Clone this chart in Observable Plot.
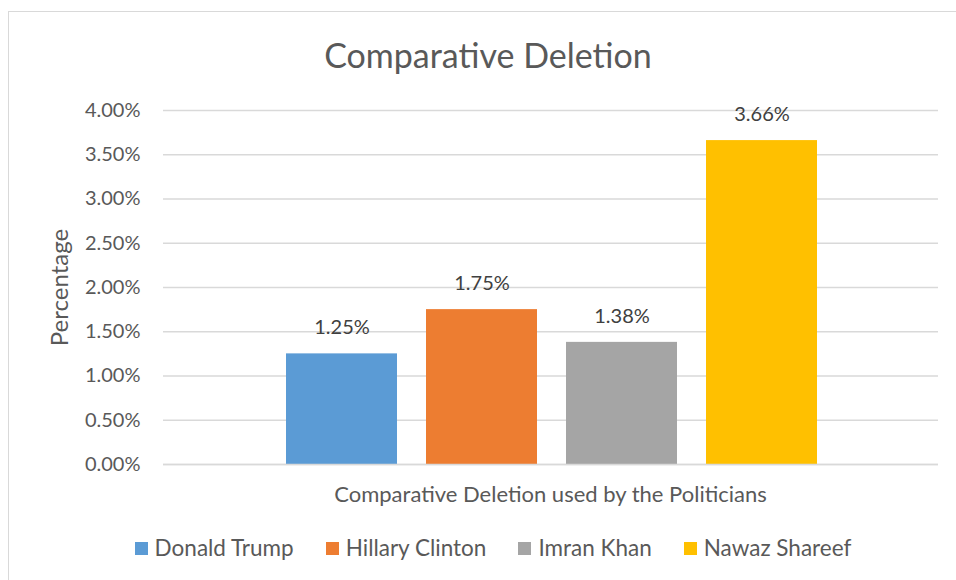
<!DOCTYPE html>
<html>
<head>
<meta charset="utf-8">
<script src="https://cdn.jsdelivr.net/npm/d3@7"></script>
<script src="https://cdn.jsdelivr.net/npm/@observablehq/plot@0.6"></script>
<style>
  html, body { margin: 0; padding: 0; background: #fff; }
  #wrap { position: relative; width: 956px; height: 580px; overflow: hidden; font-family: Lato, "Open Sans", sans-serif; color: #595959; }
  #border { position: absolute; left: 8px; top: 11px; width: 1000px; height: 620px; border: 1.5px solid #d9d9d9; box-sizing: border-box; }
  #chart { position: absolute; left: 0; top: 0; }
  #title { position: absolute; left: 0; width: 976px; top: 34px; text-align: center; font-size: 34px; line-height: 42px; }
  #xlabel { position: absolute; left: 163px; width: 775px; top: 480px; text-align: center; font-size: 22px; line-height: 28px; }
  #legend { position: absolute; left: 0; top: 534px; width: 986px; display: flex; justify-content: center; font-size: 22.5px; line-height: 28px; }
  .item { display: flex; align-items: center; margin: 0 16px; }
  .sw { width: 13px; height: 13px; margin-right: 7px; }
</style>
</head>
<body>
<div id="wrap">
  <div id="border"></div>
  <div id="chart"></div>
  <div id="title">Comparative Deletion</div>
  <div id="xlabel">Comparative Deletion used by the Politicians</div>
  <div id="legend"></div>
</div>
<script>
const politicians = ["Donald Trump", "Hillary Clinton", "Imran Khan", "Nawaz Shareef"];
const deletion = [0.0125, 0.0175, 0.0138, 0.0366];
const colors = ["#5b9bd5", "#ed7d31", "#a5a5a5", "#ffc000"];
const yTicks = [0, 0.005, 0.01, 0.015, 0.02, 0.025, 0.03, 0.035, 0.04];

const data = politicians.map((name, i) => ({ name, value: deletion[i] }));
const pct = d3.format(".2%");

const plot = Plot.plot({
  width: 956,
  height: 580,
  marginLeft: 163,
  marginRight: 18,
  marginTop: 110,
  marginBottom: 116,
  style: { fontFamily: "Lato, 'Open Sans', sans-serif", background: "transparent", color: "#595959", overflow: "visible" },
  x: { domain: politicians, range: [255.5, 847], padding: 0.21, axis: null },
  y: { domain: [0, 0.04], axis: null },
  color: { domain: politicians, range: colors },
  marks: [
    Plot.ruleY(yTicks, { stroke: "#d9d9d9", strokeWidth: 1.3 }),
    Plot.axisY({ ticks: yTicks, tickFormat: pct, tickSize: 0, tickPadding: 23, fontSize: 20, fill: "#595959", label: null }),
    Plot.barY(data, { x: "name", y: "value", fill: "name" }),
    Plot.ruleY([0], { stroke: "#d9d9d9", strokeWidth: 1.5 }),
    Plot.text(data, { x: "name", y: "value", text: d => pct(d.value), dy: -26, fontSize: 20, fill: "#404040" }),
    Plot.text(["Percentage"], { frameAnchor: "left", textAnchor: "middle", dx: -103, rotate: -90, fontSize: 24, fill: "#595959" })
  ]
});
document.getElementById("chart").appendChild(plot);

const legend = document.getElementById("legend");
politicians.forEach((name, i) => {
  const item = document.createElement("div");
  item.className = "item";
  const sw = document.createElement("div");
  sw.className = "sw";
  sw.style.background = colors[i];
  const label = document.createElement("span");
  label.textContent = name;
  item.appendChild(sw);
  item.appendChild(label);
  legend.appendChild(item);
});
</script>
</body>
</html>
